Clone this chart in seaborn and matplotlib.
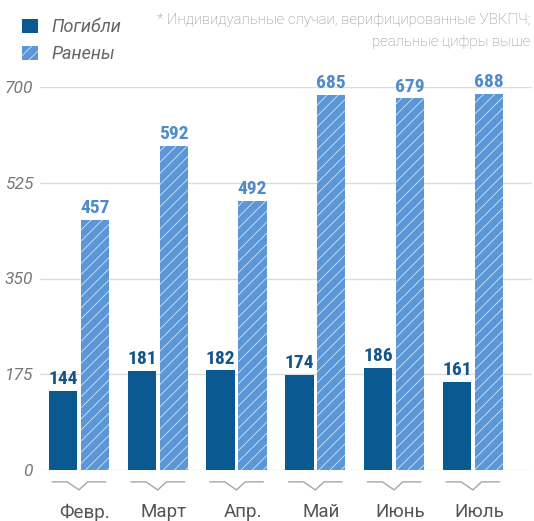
import matplotlib
matplotlib.use("Agg")
import matplotlib.pyplot as plt
import matplotlib.transforms as mtransforms
from matplotlib.patches import Patch
from matplotlib import font_manager
import seaborn as sns
import pandas as pd

months = ["Февр.", "Март", "Апр.", "Май", "Июнь", "Июль"]
killed = [144, 181, 182, 174, 186, 161]
injured = [457, 592, 492, 685, 679, 688]
series = ["Погибли", "Ранены"]
yticks = [0, 175, 350, 525, 700]
note = "* Индивидуальные случаи, верифицированные УВКПЧ;\nреальные цифры выше"

DARK = "#0a5a91"
LIGHT = "#5b97d6"
DARK_TXT = "#13548a"
LIGHT_TXT = "#4f8bcb"
HATCH = "#dfeaf7"

sns.set_theme(style="white")
avail = {f.name for f in font_manager.fontManager.ttflist}
cond = [f for f in ["Liberation Sans Narrow", "Roboto Condensed", "Roboto"] if f in avail]
plt.rcParams["font.family"] = ["Roboto", "DejaVu Sans"]
plt.rcParams["hatch.linewidth"] = 0.55

df = pd.DataFrame({
    "month": months * 2,
    "value": killed + injured,
    "series": [series[0]] * len(months) + [series[1]] * len(months),
})

fig = plt.figure(figsize=(5.34, 5.21), dpi=100)
ax = fig.add_axes([40 / 534, 1 - 470 / 521, (532 - 40) / 534, (470 - 87) / 521])

sns.barplot(data=df, x="month", y="value", hue="series", order=months,
            hue_order=series, palette=[DARK, LIGHT], width=0.81, gap=0.11,
            saturation=1, legend=False, ax=ax)

containers = ax.containers
for bar in containers[1]:
    bar.set_hatch("///")
    bar.set_edgecolor(HATCH)
    bar.set_linewidth(0)
for bar in containers[0]:
    bar.set_linewidth(0)

ax.bar_label(containers[0], labels=[str(v) for v in killed], padding=2,
             color=DARK_TXT, fontsize=14, fontweight="bold", family=cond[0])
ax.bar_label(containers[1], labels=[str(v) for v in injured], padding=2,
             color=LIGHT_TXT, fontsize=14, fontweight="bold", family=cond[0])
for t in ax.texts:
    t.set_clip_on(False)

ax.set_ylim(0, 700)
ax.set_xlim(-0.495, 5.75)
ax.set_yticks(yticks)
ax.set_yticklabels([str(v) for v in yticks], fontstyle="italic", color="#777777", fontsize=12.5)
ax.yaxis.grid(True, color="#dcdcdc", linewidth=1)
ax.set_axisbelow(True)
ax.tick_params(axis="y", length=0, pad=5)
ax.tick_params(axis="x", length=0, pad=24, labelsize=13.5, labelcolor="#555555")
shift = mtransforms.ScaledTranslation(6 / 100, 0, fig.dpi_scale_trans)
for lab in ax.get_xticklabels():
    lab.set_transform(lab.get_transform() + shift)
ax.set_xlabel("")
ax.set_ylabel("")
for s in ax.spines.values():
    s.set_visible(False)

# bracket decoration under each group
trans = mtransforms.blended_transform_factory(ax.transData, ax.transAxes)
for i in range(len(months)):
    xs = [i - 0.34, i - 0.15, i, i + 0.11, i + 0.34]
    ys = [-0.031, -0.031, -0.052, -0.031, -0.031]
    ax.plot(xs, ys, color="#a5a5a5", linewidth=1, transform=trans, clip_on=False)

handles = [Patch(facecolor=DARK, edgecolor=DARK, linewidth=0, label=series[0]),
           Patch(facecolor=LIGHT, edgecolor=HATCH, hatch="///", linewidth=0, label=series[1])]
leg = fig.legend(handles=handles, loc="upper left", bbox_to_anchor=(6 / 534, 1 - 2 / 521),
                 frameon=False, handlelength=0.85, handleheight=0.85, handletextpad=0.75,
                 labelspacing=0.5, prop={"style": "italic", "size": 13})
for t in leg.get_texts():
    t.set_color("#666666")

fig.text(530 / 534, 1 - 13 / 521, note, ha="right", va="top", color="#8a8a8a",
         fontsize=10.8, fontweight="light", linespacing=1.72)

fig.savefig("out.png", dpi=100)
